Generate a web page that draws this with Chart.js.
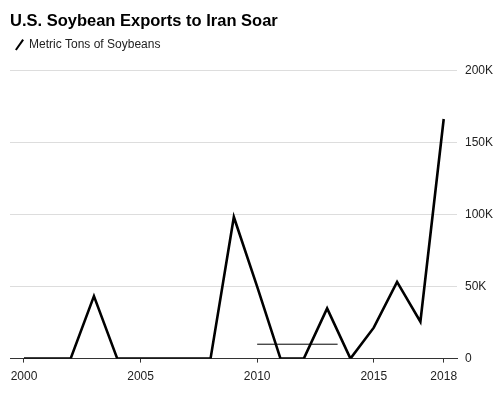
<!DOCTYPE html>
<html>
<head>
<meta charset="utf-8">
<script src="https://cdn.jsdelivr.net/npm/chart.js@4/dist/chart.umd.min.js"></script>
<style>
  html, body { margin: 0; padding: 0; background: #fff; }
  #wrap { width: 500px; height: 398px; }
</style>
</head>
<body>
<div id="wrap"><canvas id="chart" width="500" height="398"></canvas></div>
<script>
const years = [2000, 2001, 2002, 2003, 2004, 2005, 2006, 2007, 2008, 2009,
  2010, 2011, 2012, 2013, 2014, 2015, 2016, 2017, 2018]
const soybeanTons = [0, 0, 0, 43400, 0, 0, 0, 0, 0, 98400,
  50000, 0, 0, 34900, 0, 21500, 53300, 25600, 166500]
const xTicks = [2000, 2005, 2010, 2015, 2018]
const yTicks = [0, 50000, 100000, 150000, 200000]
// the thin stray rule near 2010-2013
const markYears = [2010, 2013.45]
const markLevel = [10000, 10000]

// give the legend some room below it
const legendGap = {
  id: 'legendGap',
  beforeInit(c) {
    const fit = c.legend.fit
    c.legend.fit = function () {
      fit.bind(c.legend)()
      this.height += 10
    }
  }
}

const chart = {
  init() {
    Chart.defaults.font.family = "'Liberation Sans', Arial, sans-serif"
    Chart.defaults.color = '#222'
    const ctx = document.querySelector('#chart').getContext('2d')

    this.chart = new Chart(ctx, {
      type: 'line',
      data: {
        datasets: [
          {
            label: 'Metric Tons of Soybeans',
            data: years.map((y, i) => ({ x: y, y: soybeanTons[i] })),
            borderColor: '#000',
            backgroundColor: '#000',
            borderWidth: 2.6,
            pointRadius: 0,
            pointStyle: 'line',
            pointRotation: -55,
            tension: 0
          },
          {
            label: 'mark',
            data: markYears.map((y, i) => ({ x: y, y: markLevel[i] })),
            borderColor: '#000',
            borderWidth: 1,
            pointRadius: 0
          }
        ]
      },
      plugins: [legendGap],
      options: {
        responsive: false,
        animation: false,
        layout: { padding: { left: 10, right: 7, top: 0, bottom: 7 } },
        plugins: {
          title: {
            display: true,
            text: 'U.S. Soybean Exports to Iran Soar',
            align: 'start',
            color: '#000',
            font: { size: 16.5, weight: 'bold' },
            padding: { top: 12, bottom: 1 }
          },
          legend: {
            align: 'start',
            labels: {
              usePointStyle: true,
              boxWidth: 7,
              boxHeight: 9,
              padding: 6,
              color: '#222',
              font: { size: 12 },
              filter: item => item.datasetIndex === 0,
              generateLabels: c => {
                const items = Chart.defaults.plugins.legend.labels.generateLabels(c)
                items.forEach(it => { it.lineWidth = 2 })
                return items
              }
            }
          },
          tooltip: { enabled: false }
        },
        scales: {
          x: {
            type: 'linear',
            min: 1999.4,
            max: 2018.57,
            afterBuildTicks: axis => { axis.ticks = xTicks.map(v => ({ value: v })) },
            grid: { drawOnChartArea: false, drawTicks: true, tickLength: 4, color: '#333' },
            border: { display: true, color: '#333', width: 1 },
            ticks: { padding: 7, font: { size: 12 }, color: '#222', callback: v => String(v) }
          },
          y: {
            position: 'right',
            min: 0,
            max: 200000,
            afterBuildTicks: axis => { axis.ticks = yTicks.map(v => ({ value: v })) },
            afterFit: axis => { axis.width = 36 },
            grid: { color: '#ddd', drawTicks: false },
            border: { display: false },
            ticks: {
              padding: 8,
              font: { size: 12 },
              color: '#222',
              callback: v => v === 0 ? '0' : (v / 1000) + 'K'
            }
          }
        }
      }
    })
  }
}

chart.init()
</script>
</body>
</html>
